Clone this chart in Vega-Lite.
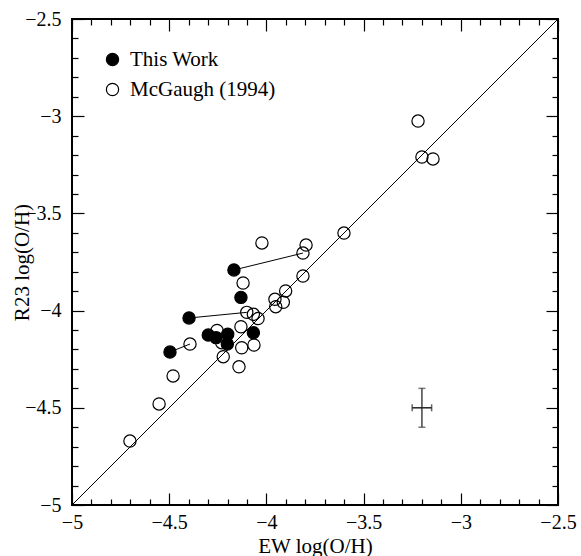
{
  "$schema": "https://vega.github.io/schema/vega-lite/v6.json",
  "width": 486,
  "height": 486,
  "autosize": "none",
  "padding": {"left": 72, "top": 19, "right": 23, "bottom": 51},
  "background": "white",
  "config": {
    "view": {"stroke": "black", "strokeWidth": 2},
    "font": "Liberation Serif",
    "axis": {"grid": false, "domain": false, "tickColor": "black", "tickWidth": 1.2, "labelColor": "black", "titleColor": "black", "labelFont": "Liberation Serif", "titleFont": "Liberation Serif", "labelFontSize": 20, "titleFontSize": 21, "titleFontWeight": "normal", "labelFlush": false, "labelOverlap": false, "labelBound": false}
  },
  "datasets": {
    "pts": [
      {"x": -3.220, "y": -3.025, "sample": "McGaugh (1994)"},
      {"x": -3.200, "y": -3.210, "sample": "McGaugh (1994)"},
      {"x": -3.143, "y": -3.220, "sample": "McGaugh (1994)"},
      {"x": -3.601, "y": -3.601, "sample": "McGaugh (1994)"},
      {"x": -4.023, "y": -3.652, "sample": "McGaugh (1994)"},
      {"x": -3.796, "y": -3.663, "sample": "McGaugh (1994)"},
      {"x": -3.812, "y": -3.704, "sample": "McGaugh (1994)"},
      {"x": -3.812, "y": -3.822, "sample": "McGaugh (1994)"},
      {"x": -4.120, "y": -3.858, "sample": "McGaugh (1994)"},
      {"x": -3.901, "y": -3.899, "sample": "McGaugh (1994)"},
      {"x": -3.956, "y": -3.942, "sample": "McGaugh (1994)"},
      {"x": -3.913, "y": -3.957, "sample": "McGaugh (1994)"},
      {"x": -3.952, "y": -3.980, "sample": "McGaugh (1994)"},
      {"x": -4.101, "y": -4.009, "sample": "McGaugh (1994)"},
      {"x": -4.067, "y": -4.019, "sample": "McGaugh (1994)"},
      {"x": -4.043, "y": -4.041, "sample": "McGaugh (1994)"},
      {"x": -4.131, "y": -4.083, "sample": "McGaugh (1994)"},
      {"x": -4.254, "y": -4.102, "sample": "McGaugh (1994)"},
      {"x": -4.064, "y": -4.177, "sample": "McGaugh (1994)"},
      {"x": -4.127, "y": -4.191, "sample": "McGaugh (1994)"},
      {"x": -4.230, "y": -4.165, "sample": "McGaugh (1994)"},
      {"x": -4.222, "y": -4.237, "sample": "McGaugh (1994)"},
      {"x": -4.141, "y": -4.289, "sample": "McGaugh (1994)"},
      {"x": -4.393, "y": -4.172, "sample": "McGaugh (1994)"},
      {"x": -4.480, "y": -4.336, "sample": "McGaugh (1994)"},
      {"x": -4.552, "y": -4.480, "sample": "McGaugh (1994)"},
      {"x": -4.702, "y": -4.671, "sample": "McGaugh (1994)"},
      {"x": -4.167, "y": -3.791, "sample": "This Work"},
      {"x": -4.131, "y": -3.932, "sample": "This Work"},
      {"x": -4.398, "y": -4.038, "sample": "This Work"},
      {"x": -4.299, "y": -4.126, "sample": "This Work"},
      {"x": -4.259, "y": -4.139, "sample": "This Work"},
      {"x": -4.199, "y": -4.122, "sample": "This Work"},
      {"x": -4.201, "y": -4.172, "sample": "This Work"},
      {"x": -4.067, "y": -4.114, "sample": "This Work"},
      {"x": -4.496, "y": -4.213, "sample": "This Work"}
    ],
    "links": [
      {"pair": "a", "x": -4.167, "y": -3.791},
      {"pair": "a", "x": -3.812, "y": -3.704},
      {"pair": "b", "x": -4.398, "y": -4.038},
      {"pair": "b", "x": -4.101, "y": -4.009},
      {"pair": "c", "x": -4.496, "y": -4.213},
      {"pair": "c", "x": -4.393, "y": -4.172}
    ],
    "diag": [
      {"x": -5, "y": -5},
      {"x": -2.5, "y": -2.5}
    ],
    "err": [
      {"x": -3.2, "y": -4.5, "xlo": -3.25, "xhi": -3.15, "ylo": -4.6, "yhi": -4.4}
    ],
    "caps": [
      {"x": -3.2, "y": -4.4, "o": "h"},
      {"x": -3.2, "y": -4.6, "o": "h"},
      {"x": -3.25, "y": -4.5, "o": "v"},
      {"x": -3.15, "y": -4.5, "o": "v"}
    ]
  },
  "resolve": {"axis": {"x": "independent", "y": "independent"}},
  "layer": [
    {
      "data": {"name": "diag"},
      "mark": {"type": "line", "color": "black", "strokeWidth": 1},
      "encoding": {
        "x": {"field": "x", "type": "quantitative", "scale": {"domain": [-5, -2.5], "nice": false, "zero": false},
          "axis": {"orient": "bottom", "values": [-5, -4.5, -4, -3.5, -3, -2.5], "format": "~g", "tickSize": -12, "labelPadding": 19, "title": "EW log(O/H)", "titleY": 41, "titleBaseline": "middle"}},
        "y": {"field": "y", "type": "quantitative", "scale": {"domain": [-5, -2.5], "nice": false, "zero": false},
          "axis": {"orient": "left", "values": [-5, -4.5, -4, -3.5, -3, -2.5], "format": "~g", "tickSize": -12, "labelPadding": 23, "title": "R23 log(O/H)", "titleX": -50, "titleBaseline": "middle"}}
      }
    },
    {
      "data": {"name": "links"},
      "mark": {"type": "line", "color": "black", "strokeWidth": 1},
      "encoding": {
        "detail": {"field": "pair"},
        "x": {"field": "x", "type": "quantitative",
          "axis": {"orient": "bottom", "values": [-4.9, -4.8, -4.7, -4.6, -4.4, -4.3, -4.2, -4.1, -3.9, -3.8, -3.7, -3.6, -3.4, -3.3, -3.2, -3.1, -2.9, -2.8, -2.7, -2.6], "tickSize": -6, "labels": false, "title": null}},
        "y": {"field": "y", "type": "quantitative",
          "axis": {"orient": "left", "values": [-4.9, -4.8, -4.7, -4.6, -4.4, -4.3, -4.2, -4.1, -3.9, -3.8, -3.7, -3.6, -3.4, -3.3, -3.2, -3.1, -2.9, -2.8, -2.7, -2.6], "tickSize": -6, "labels": false, "title": null}}
      }
    },
    {
      "data": {"name": "pts"},
      "mark": {"type": "circle", "size": 150, "stroke": "black", "strokeWidth": 1.2, "opacity": 1},
      "encoding": {
        "x": {"field": "x", "type": "quantitative",
          "axis": {"orient": "top", "values": [-5, -4.5, -4, -3.5, -3, -2.5], "tickSize": -12, "labels": false, "title": null}},
        "y": {"field": "y", "type": "quantitative",
          "axis": {"orient": "right", "values": [-5, -4.5, -4, -3.5, -3, -2.5], "tickSize": -12, "labels": false, "title": null}},
        "fill": {"field": "sample", "type": "nominal",
          "scale": {"domain": ["This Work", "McGaugh (1994)"], "range": ["black", "transparent"]},
          "legend": {"title": null, "orient": "top-left", "offset": 30, "padding": 0, "symbolType": "circle", "symbolSize": 150, "symbolStrokeColor": "black", "symbolStrokeWidth": 1.2, "labelFont": "Liberation Serif", "labelFontSize": 21, "labelColor": "black", "labelOffset": 7, "rowPadding": 8}}
      }
    },
    {
      "data": {"name": "err"},
      "mark": {"type": "rule", "color": "#444", "strokeWidth": 1.5},
      "encoding": {
        "x": {"field": "x", "type": "quantitative",
          "axis": {"orient": "top", "values": [-4.9, -4.8, -4.7, -4.6, -4.4, -4.3, -4.2, -4.1, -3.9, -3.8, -3.7, -3.6, -3.4, -3.3, -3.2, -3.1, -2.9, -2.8, -2.7, -2.6], "tickSize": -6, "labels": false, "title": null}},
        "y": {"field": "ylo", "type": "quantitative",
          "axis": {"orient": "right", "values": [-4.9, -4.8, -4.7, -4.6, -4.4, -4.3, -4.2, -4.1, -3.9, -3.8, -3.7, -3.6, -3.4, -3.3, -3.2, -3.1, -2.9, -2.8, -2.7, -2.6], "tickSize": -6, "labels": false, "title": null}},
        "y2": {"field": "yhi"}
      }
    },
    {
      "data": {"name": "err"},
      "mark": {"type": "rule", "color": "#222", "strokeWidth": 1.5},
      "encoding": {
        "x": {"field": "xlo", "type": "quantitative", "axis": null},
        "x2": {"field": "xhi"},
        "y": {"field": "y", "type": "quantitative", "axis": null}
      }
    },
    {
      "data": {"name": "caps"},
      "transform": [{"filter": "datum.o === 'h'"}],
      "mark": {"type": "tick", "orient": "horizontal", "color": "#444", "size": 7, "thickness": 1.5},
      "encoding": {
        "x": {"field": "x", "type": "quantitative", "axis": null},
        "y": {"field": "y", "type": "quantitative", "axis": null}
      }
    },
    {
      "data": {"name": "caps"},
      "transform": [{"filter": "datum.o === 'v'"}],
      "mark": {"type": "tick", "orient": "vertical", "color": "#222", "size": 7, "thickness": 1.5},
      "encoding": {
        "x": {"field": "x", "type": "quantitative", "axis": null},
        "y": {"field": "y", "type": "quantitative", "axis": null}
      }
    }
  ]
}
